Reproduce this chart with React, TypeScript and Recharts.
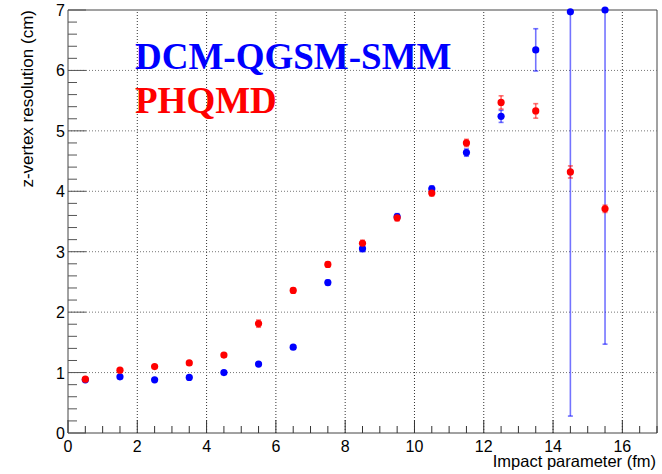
import React from 'react';
import { ScatterChart, Scatter, XAxis, YAxis, ErrorBar, ReferenceLine, ReferenceArea } from 'recharts';

const impactParameter = [0.5, 1.5, 2.5, 3.5, 4.5, 5.5, 6.5, 7.5, 8.5, 9.5, 10.5, 11.5, 12.5, 13.5, 14.5, 15.5];
const dcmResolution = [0.88, 0.93, 0.88, 0.92, 1.0, 1.14, 1.42, 2.49, 3.05, 3.58, 4.04, 4.64, 5.24, 6.34, 6.97, 7.0];
const dcmErrLow = [0.02, 0.02, 0.02, 0.02, 0.02, 0.03, 0.03, 0.04, 0.05, 0.05, 0.05, 0.06, 0.1, 0.35, 6.69, 5.53];
const dcmErrHigh = [0.02, 0.02, 0.02, 0.02, 0.02, 0.03, 0.03, 0.04, 0.05, 0.05, 0.05, 0.06, 0.1, 0.35, 0.03, 0.0];
const phqmdResolution = [0.89, 1.04, 1.1, 1.16, 1.29, 1.81, 2.36, 2.79, 3.14, 3.56, 3.97, 4.8, 5.47, 5.33, 4.32, 3.71];
const phqmdErr = [0.02, 0.02, 0.02, 0.03, 0.03, 0.06, 0.04, 0.04, 0.05, 0.05, 0.05, 0.06, 0.11, 0.12, 0.1, 0.06];

const xTicks = [0, 0.5, 1, 1.5, 2, 2.5, 3, 3.5, 4, 4.5, 5, 5.5, 6, 6.5, 7, 7.5, 8, 8.5, 9, 9.5, 10, 10.5, 11, 11.5, 12, 12.5, 13, 13.5, 14, 14.5, 15, 15.5, 16, 16.5, 17];
const xMajorTicks = [0, 2, 4, 6, 8, 10, 12, 14, 16];
const yTicks = [0, 0.2, 0.4, 0.6, 0.8, 1, 1.2, 1.4, 1.6, 1.8, 2, 2.2, 2.4, 2.6, 2.8, 3, 3.2, 3.4, 3.6, 3.8, 4, 4.2, 4.4, 4.6, 4.8, 5, 5.2, 5.4, 5.6, 5.8, 6, 6.2, 6.4, 6.6, 6.8, 7];
const yMajorTicks = [0, 1, 2, 3, 4, 5, 6, 7];
const xGrid = [2, 4, 6, 8, 10, 12, 14, 16];
const yGrid = [1, 2, 3, 4, 5, 6];

const dcmData = impactParameter.map((b, i) => ({ b, res: dcmResolution[i], err: [dcmErrLow[i], dcmErrHigh[i]] }));
const phqmdData = impactParameter.map((b, i) => ({ b, res: phqmdResolution[i], err: phqmdErr[i] }));

const FONT = '"Liberation Sans", Arial, Helvetica, sans-serif';

const isMajor = (v: number, list: number[]) => list.some((m) => Math.abs(m - v) < 1e-6);

const XTick = (props: any) => {
  const { x, y, payload } = props;
  const v = payload.value;
  const major = isMajor(v, xMajorTicks);
  return (
    <g>
      <line x1={x} x2={x} y1={y} y2={y - (major ? 13 : 7)} stroke="#333" strokeWidth={1} />
      {major && (
        <text x={x} y={y + 18.5} textAnchor="middle" fontSize={16} fontFamily={FONT} fill="#000">
          {v}
        </text>
      )}
    </g>
  );
};

const YTick = (props: any) => {
  const { x, y, payload } = props;
  const v = payload.value;
  const major = isMajor(v, yMajorTicks);
  return (
    <g>
      <line x1={x} x2={x + (major ? 18 : 9)} y1={y} y2={y} stroke="#555" strokeWidth={1} />
      {major && (
        <text x={x - 3} y={y + 6} textAnchor="end" fontSize={16} fontFamily={FONT} fill="#000">
          {v}
        </text>
      )}
    </g>
  );
};

const Dot = (color: string) => (props: any) => {
  const { cx, cy } = props;
  if (cx == null || cy == null) return <g />;
  return <circle cx={cx} cy={cy} r={3.6} fill={color} />;
};

export default function App() {
  return (
    <div style={{ position: 'absolute', left: 0, top: 0, width: 662, height: 474, background: '#fff' }}>
      <ScatterChart width={662} height={474} margin={{ top: 10, right: 5, left: 0, bottom: 0 }}>
        <XAxis
          type="number"
          dataKey="b"
          domain={[0, 17]}
          ticks={xTicks}
          interval={0}
          height={41}
          tickSize={0}
          tickMargin={0}
          tickLine={false}
          axisLine={false}
          tick={<XTick />}
          allowDataOverflow
        />
        <YAxis
          type="number"
          dataKey="res"
          domain={[0, 7]}
          ticks={yTicks}
          interval={0}
          width={68}
          tickSize={0}
          tickMargin={0}
          tickLine={false}
          axisLine={false}
          tick={<YTick />}
        />
        {xGrid.map((g) => (
          <ReferenceLine key={'x' + g} x={g} stroke="#333" strokeDasharray="1 2" strokeWidth={1} />
        ))}
        {yGrid.map((g) => (
          <ReferenceLine key={'y' + g} y={g} stroke="#777" strokeDasharray="1 2" strokeWidth={1} />
        ))}
        <ReferenceArea x1={0} x2={17} y1={0} y2={7} fill="none" fillOpacity={0} stroke="#444" strokeWidth={1} />
        <Scatter data={dcmData} isAnimationActive={false} shape={Dot('#0000ff')}>
          <ErrorBar dataKey="err" direction="y" width={2.5} stroke="#0000ff" strokeOpacity={0.55} strokeWidth={1.6} />
        </Scatter>
        <Scatter data={phqmdData} isAnimationActive={false} shape={Dot('#ff0000')}>
          <ErrorBar dataKey="err" direction="y" width={2.5} stroke="#ff0000" strokeOpacity={0.55} strokeWidth={1.6} />
        </Scatter>
      </ScatterChart>
      <svg width={662} height={474} style={{ position: 'absolute', left: 0, top: 0, pointerEvents: 'none' }}>
        <text x={135} y={69} fontSize={37} fontWeight="bold" fontFamily='"Liberation Serif", "Times New Roman", serif' fill="#0000ff">
          DCM-QGSM-SMM
        </text>
        <text x={135} y={113} fontSize={37} fontWeight="bold" fontFamily='"Liberation Serif", "Times New Roman", serif' fill="#ff0000">
          PHQMD
        </text>
        <text transform="translate(33,10) rotate(-90)" textAnchor="end" fontSize={17} fontFamily={FONT} fill="#000">
          z-vertex resolution (cm)
        </text>
        <text x={656} y={467} textAnchor="end" fontSize={16.5} fontFamily={FONT} fill="#000">
          Impact parameter (fm)
        </text>
      </svg>
    </div>
  );
}
